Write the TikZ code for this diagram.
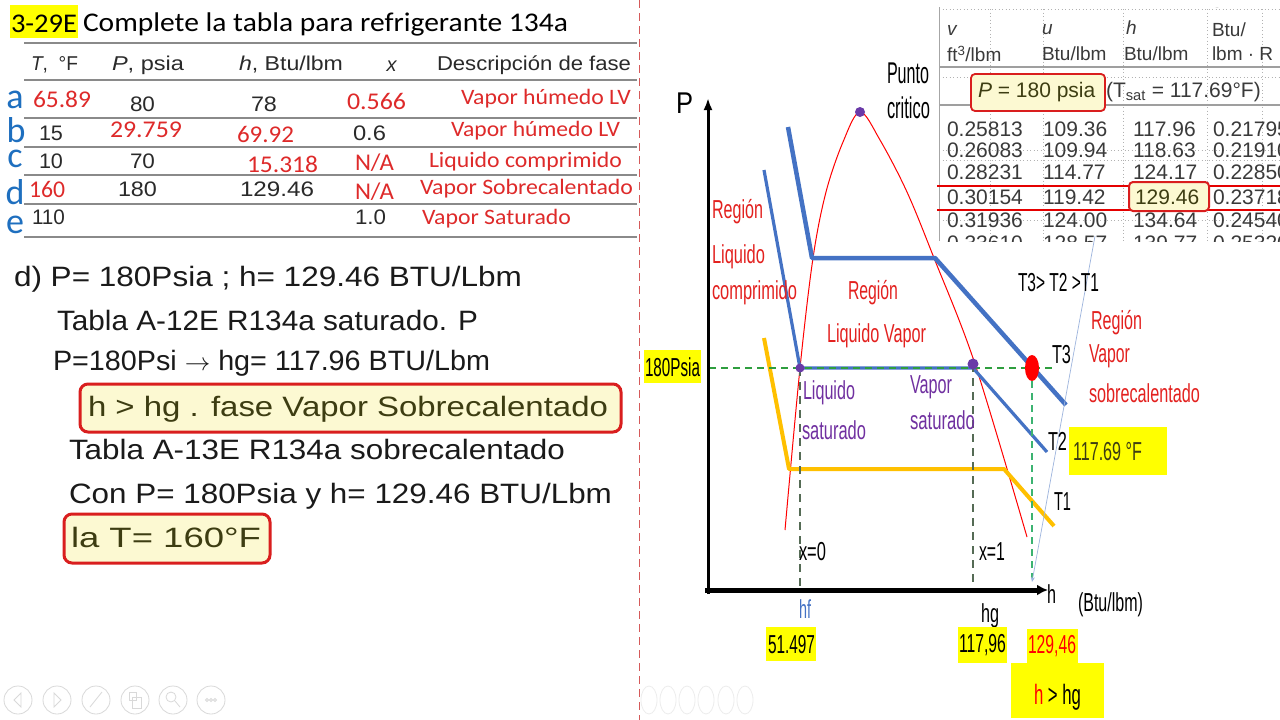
\documentclass[tikz,border=0pt]{standalone}
\usepackage{fontspec}
\usepackage{graphicx}
\setmainfont{Liberation Sans}
\newfontfamily\calfont{Carlito}
\usetikzlibrary{arrows.meta}
\newcommand\fw[2]{\resizebox{#1pt}{\height}{#2}}
\definecolor{tred}{HTML}{DE2A2A}
\definecolor{dred}{HTML}{E3211F}
\definecolor{rowblue}{HTML}{1E6FBF}
\definecolor{tblk}{HTML}{2A2A2A}
\definecolor{lgray}{HTML}{8A8A8A}
\definecolor{pblue}{HTML}{4472C4}
\definecolor{pyel}{HTML}{FFC000}
\definecolor{ppurp}{HTML}{7030A0}
\definecolor{hlyel}{HTML}{FFFF00}
\definecolor{boxfill}{HTML}{FCF9D2}
\definecolor{boxred}{HTML}{D91E1E}
\definecolor{gdash}{HTML}{2E9E3E}
\definecolor{vdash}{HTML}{556B55}
\definecolor{tdash}{HTML}{3CB371}
\definecolor{critdot}{HTML}{6A3AA8}
\definecolor{handc}{HTML}{1A1A1A}
\definecolor{olivet}{HTML}{3D3D12}
\definecolor{scan}{HTML}{3A3A3A}
\definecolor{lblue}{HTML}{9DB4DD}
\definecolor{divred}{HTML}{D55A5A}
\tikzset{
  txt/.style={inner sep=0pt, outer sep=0pt, anchor=west},
  redc/.style={txt, text=tred, font=\calfont\fontsize{22}{26}\selectfont},
  rednum/.style={txt, text=tred, font=\calfont\fontsize{24}{28}\selectfont},
  blknum/.style={txt, text=tblk, font=\fontsize{21}{25}\selectfont},
  hdr/.style={txt, text=tblk, font=\fontsize{20}{24}\selectfont},
  letter/.style={inner sep=0pt, anchor=base, text=rowblue, font=\calfont\fontsize{36}{40}\selectfont},
  hand/.style={txt, text=handc, font=\fontsize{28}{32}\selectfont},
  hbox/.style={draw=boxred, fill=boxfill, line width=3pt, rounded corners=8pt},
  rowline/.style={draw=lgray, line width=1.6pt},
  lab/.style={txt, font=\fontsize{26}{30}\selectfont},
  biglab/.style={txt, font=\fontsize{30}{34}\selectfont},
  rlab/.style={lab, text=dred},
  plab/.style={lab, text=ppurp},
  scantxt/.style={txt, text=scan, font=\fontsize{21}{25}\selectfont},
  scanhdr/.style={txt, text=scan, font=\fontsize{19}{23}\selectfont},
  dotl/.style={draw=gray!60, line width=0.8pt, dash pattern=on 1pt off 2.5pt},
  navc/.style={draw=gray!30, line width=0.8pt},
  navr/.style={draw=gray!14, line width=0.8pt},
}
\begin{document}
\begin{tikzpicture}[x=1pt,y=-1pt]
\useasboundingbox (0,0) rectangle (1280,720);
\fill[white] (0,0) rectangle (1280,720);

% divider
\draw[divred, line width=0.9pt, dash pattern=on 8pt off 5pt] (639,0) -- (639,720);

% ---------- title ----------
\fill[hlyel] (10,5) rectangle (78,38);
\node[txt, font=\calfont\fontsize{27}{30}\selectfont] (num) at (11,24) {\fw{66}{3-29E}};
\node[txt, font=\calfont\fontsize{27}{30}\selectfont] (title) at (83,24) {\fw{485}{Complete la tabla para refrigerante 134a}};

% ---------- table ----------
\draw[rowline, line width=2.4pt] (24,43) -- (637,43);
\foreach \yy in {80,118,147,175,204} {\draw[rowline] (24,\yy) -- (637,\yy);}
\draw[rowline, line width=2.2pt] (24,237) -- (637,237);

\node[hdr] (hT) at (31,65) {\fw{47}{\textit{T},\ \ °F}};
\node[hdr] (hP) at (112,65) {\fw{72}{\textit{P}, psia}};
\node[hdr] (hh) at (239,65) {\fw{104}{\textit{h}, Btu/lbm}};
\node[hdr, anchor=center] (hx) at (392,66) {\textit{x}};
\node[hdr] (hD) at (437,65) {\fw{194}{Descripción de fase}};

\node[letter] (la) at (15,108) {a};
\node[letter] (lb) at (16,142) {b};
\node[letter] (lc) at (15,167) {c};
\node[letter] (ld) at (15,204) {d};
\node[letter] (le) at (15,233) {e};

\node[rednum] (a1) at (33,99) {\fw{58}{65.89}};
\node[blknum] (a2) at (130,104) {\fw{25}{80}};
\node[blknum] (a3) at (251,104) {\fw{26}{78}};
\node[rednum] (a4) at (347,101) {\fw{59}{0.566}};
\node[redc] (a5) at (461,99) {\fw{170}{Vapor húmedo LV}};

\node[blknum] (b1) at (39,133) {\fw{24}{15}};
\node[rednum] (b2) at (110,130) {\fw{72}{29.759}};
\node[rednum] (b3) at (237,134) {\fw{57}{69.92}};
\node[blknum] (b4) at (353,133) {\fw{33}{0.6}};
\node[redc] (b5) at (451,131) {\fw{169}{Vapor húmedo LV}};

\node[blknum] (c1) at (39,161) {\fw{24}{10}};
\node[blknum] (c2) at (130,161) {\fw{25}{70}};
\node[rednum] (c3) at (247,164) {\fw{71}{15.318}};
\node[rednum] (c4) at (355,163) {\fw{39}{N/A}};
\node[redc] (c5) at (429,162) {\fw{193}{Liquido comprimido}};

\node[rednum] (d1) at (29,189) {\fw{36}{160}};
\node[blknum] (d2) at (118,189) {\fw{39}{180}};
\node[blknum] (d3) at (240,189) {\fw{74}{129.46}};
\node[rednum] (d4) at (355,192) {\fw{39}{N/A}};
\node[redc] (d5) at (420,189) {\fw{213}{Vapor Sobrecalentado}};

\node[blknum] (e1) at (32,217) {\fw{33}{110}};
\node[blknum] (e4) at (355,217) {\fw{31}{1.0}};
\node[redc] (e5) at (422,219) {\fw{149}{Vapor Saturado}};

% ---------- handwritten ----------
\node[hand] (l1) at (14,279) {\fw{508}{d) P= 180Psia ; h= 129.46 BTU/Lbm}};
\node[hand] (l2) at (57,320) {\fw{421}{Tabla A-12E R134a saturado. P}};
\node[hand] (l3) at (53,363) {\fw{437}{P=180Psi $\rightarrow$ hg= 117.96 BTU/Lbm}};
\draw[hbox] (80,384) rectangle (621,432);
\node[hand, text=olivet] (bx1) at (88,409) {\fw{520}{h > hg . fase Vapor Sobrecalentado}};
\node[hand] (l5) at (69,449) {\fw{496}{Tabla A-13E R134a sobrecalentado}};
\node[hand] (l6) at (69,496) {\fw{543}{Con P= 180Psia y h= 129.46 BTU/Lbm}};
\draw[hbox] (64,514) rectangle (270,563);
\node[hand, text=olivet] (bx2) at (71,537) {\fw{190}{la T= 160°F}};

% ---------- nav icons ----------
\foreach \cx in {18,57,96,135,173,211} {\draw[navc] (\cx,700) circle (14);}
\draw[navc] (21,693) -- (14,700) -- (21,707) -- cycle;
\draw[navc] (54,693) -- (61,700) -- (54,707) -- cycle;
\draw[navc] (90,707) -- (102,692);
\draw[navc] (129,692) rectangle (136,700);
\draw[navc] (132,697) rectangle (141,708);
\draw[navc] (171,697) circle (5);
\draw[navc] (175,701) -- (180,707);
\foreach \dx in {-4,0,4} {\draw[navc] (211+\dx,700) circle (1.5);}
\foreach \cx in {649,668,687,706,726,745} {\draw[navr] (\cx,700) ellipse (8 and 14);}

% ---------- scanned table ----------
\begin{scope}
\clip (938,7) rectangle (1280,241);
\fill[white] (938,7) rectangle (1280,241);
\foreach \xx in {990,1043,1123,1207,1262} {\draw[dotl] (\xx,9) -- (\xx,241);}
\draw[dotl] (939,9) -- (1280,9);
\draw[dotl] (939,77) -- (1280,77);
\draw[dotl] (939,150) -- (1280,150);
\draw[dotl] (939,160) -- (1280,160);
\draw[dotl] (939,220) -- (1280,220);
\node[scanhdr] (hs) at (1213,2) {\textit{s}};
\node[scanhdr] (hv) at (947,30) {\textit{v}};
\node[scanhdr] (hv2) at (947,54) {ft\textsuperscript{3}/lbm};
\node[scanhdr] (hu) at (1042,30) {\textit{u}};
\node[scanhdr] (hu2) at (1042,54) {Btu/lbm};
\node[scanhdr] (hh1) at (1126,28) {\textit{h}};
\node[scanhdr] (hh2) at (1124,54) {Btu/lbm};
\node[scanhdr] (hs1) at (1212,30) {Btu/};
\node[scanhdr] (hs2) at (1212,54) {lbm · R};
\draw[gray!75, line width=1.3pt] (939,67) -- (1280,67);
\draw[gray!75, line width=1.3pt] (939,105) -- (1280,105);
\draw[boxred, fill=boxfill, rounded corners=4pt, line width=1.8pt] (971,74) rectangle (1105,111);
\node[scantxt, text=olivet] (pbox) at (978,92) {\textit{P} = 180 psia};
\node[scantxt] (tsat) at (1106,92) {(T\textsubscript{sat} = 117.69°F)};
\foreach \yy/\va/\vb/\vc/\vd in {129/0.25813/109.36/117.96/0.21795, 150/0.26083/109.94/118.63/0.21910, 172/0.28231/114.77/124.17/0.22850, 197/0.30154/119.42/129.46/0.23718, 220/0.31936/124.00/134.64/0.24540, 243/0.33610/128.57/139.77/0.25320}{
  \node[scantxt] at (947,\yy) {\va};
  \node[scantxt] at (1043,\yy) {\vb};
  \node[scantxt] at (1133,\yy) {\vc};
  \node[scantxt] at (1213,\yy) {\vd};
}
\end{scope}
\draw[gray!70, line width=1pt] (939,7) -- (939,241);
\draw[red!90!black, line width=2.6pt] (937,186) -- (1280,186);
\draw[red!90!black, line width=2.6pt] (937,210) -- (1280,210);
\draw[boxred, fill=boxfill, rounded corners=4pt, line width=2pt] (1129,182) rectangle (1209,211);
\node[scantxt, text=olivet] (h129) at (1135,197) {129.46};

% ---------- P-h diagram ----------
\coordinate (O) at (708,590);
\coordinate (Ptop) at (708,98);
\coordinate (Hend) at (1048,590);
\coordinate (Ostart) at (708,594);
\coordinate (Hstart) at (705,590);
\coordinate (crit) at (860,112);
\coordinate (sl) at (800,368);
\coordinate (sv) at (973,368);
\coordinate (svd) at (973,364);
\coordinate (st) at (1032,368);

% dome
\draw[red, line width=1pt] plot[smooth, tension=0.55] coordinates {(785,530) (800,368) (813,258) (826,192) (843,142) (860,112) (880,140) (907,192) (934,258) (975,364) (1027,537)};

% isotherms
\coordinate (t2a) at (764,170);
\coordinate (t2b) at (1047,452);
\draw[pblue, line width=3.2pt, line join=round] (t2a) -- (sl) -- (sv) -- (t2b);
\coordinate (t3a) at (788,127);
\coordinate (t3b) at (812,258);
\coordinate (t3c) at (935,258);
\coordinate (t3d) at (1066,405);
\draw[pblue, line width=4.5pt, line join=round] (t3a) -- (t3b) -- (t3c) -- (t3d);
\coordinate (t1a) at (764,338);
\coordinate (t1b) at (789,469);
\coordinate (t1c) at (1004,469);
\coordinate (t1d) at (1054,526);
\draw[pyel, line width=4pt, line join=round] (t1a) -- (t1b) -- (t1c) -- (t1d);

% dashed lines
\coordinate (gl) at (709,368);
\coordinate (gr) at (1052,368);
\draw[gdash, line width=2.5pt, dash pattern=on 7pt off 5pt] (gl) -- (gr);
\coordinate (slb) at (800,590);
\coordinate (svb) at (973,590);
\coordinate (stt) at (1032,381);
\coordinate (stb) at (1032,578);
\draw[vdash, line width=1.2pt, dash pattern=on 8pt off 6pt] (sl) -- (slb);
\draw[vdash, line width=1.2pt, dash pattern=on 8pt off 6pt] (svd) -- (svb);
\draw[tdash, line width=1.2pt, dash pattern=on 7pt off 5pt] (stt) -- (stb);
\coordinate (bl1) at (1095,236);
\coordinate (bl2) at (1032,582);
\draw[lblue, line width=0.7pt, -{Stealth[length=5pt,width=4pt]}] (bl1) -- (bl2);

% axes
\draw[black, line width=3pt, -{Latex[length=12pt,width=9pt]}] (Ostart) -- (Ptop);
\draw[black, line width=5pt, -{Latex[length=11pt,width=11pt]}] (Hstart) -- (Hend);

% points
\fill[critdot] (crit) circle (5);
\fill[critdot] (sl) circle (4.5);
\fill[critdot] (svd) circle (5.5);
\fill[red] (st) ellipse (7 and 13);

% labels
\node[biglab] (Plab) at (676,103) {\fw{17}{P}};
\node[biglab] (punto) at (887,73) {\fw{42}{Punto}};
\node[biglab] (critico) at (887,108) {\fw{43}{critico}};
\node[rlab] (rl1) at (712,212) {\fw{51}{Región}};
\node[rlab] (rl2) at (712,257) {\fw{53}{Liquido}};
\node[rlab] (rl3) at (712,293) {\fw{85}{comprimido}};
\node[rlab] (rm1) at (848,293) {\fw{50}{Región}};
\node[rlab] (rm2) at (827,336) {\fw{99}{Liquido Vapor}};
\node[plab] (ls1) at (803,393) {\fw{52}{Liquido}};
\node[plab] (ls2) at (802,430) {\fw{64}{saturado}};
\node[plab] (vs1) at (910,387) {\fw{42}{Vapor}};
\node[plab] (vs2) at (910,420) {\fw{65}{saturado}};
\node[lab] (ord) at (1018,283) {\fw{81}{T3> T2 >T1}};
\node[rlab] (rr1) at (1091,323) {\fw{51}{Región}};
\node[rlab] (rr2) at (1089,356) {\fw{41}{Vapor}};
\node[rlab] (rr3) at (1089,393) {\fw{111}{sobrecalentado}};
\node[lab] (T3) at (1052,355) {\fw{19}{T3}};
\node[lab] (T2) at (1048,441) {\fw{19}{T2}};
\node[lab] (T1) at (1054,502) {\fw{17}{T1}};

\fill[hlyel] (644,350) rectangle (701,383);
\node[lab] (p180) at (645,367) {\fw{55}{180Psia}};
\fill[hlyel] (1069,427) rectangle (1167,475);
\node[lab, text=olivet] (tsatlab) at (1073,452) {\fw{69}{117.69 °F}};

\node[lab] (x0) at (799,552) {\fw{27}{x=0}};
\node[lab] (x1) at (979,552) {\fw{26}{x=1}};
\node[lab, text=pblue] (hf) at (799,609) {\fw{12}{hf}};
\node[lab] (hg) at (981,616) {\fw{18}{hg}};
\node[lab] (hax) at (1047,594) {\fw{9}{h}};
\node[lab] (units) at (1078,605) {\fw{65}{(Btu/lbm)}};

\fill[hlyel] (766,627) rectangle (816,661);
\node[lab] (v1) at (768,645) {\fw{47}{51.497}};
\fill[hlyel] (958,627) rectangle (1007,663);
\node[lab] (v2) at (959,645) {\fw{47}{117,96}};
\fill[hlyel] (1027,629) rectangle (1078,663);
\node[lab, text=red] (v3) at (1028,646) {\fw{48}{129,46}};
\fill[hlyel] (1011,663) rectangle (1104,718);
\node[lab, font=\fontsize{28}{32}\selectfont] (hgt) at (1034,697) {\fw{47}{\textcolor{red}{h} > hg}};
\end{tikzpicture}
\end{document}
